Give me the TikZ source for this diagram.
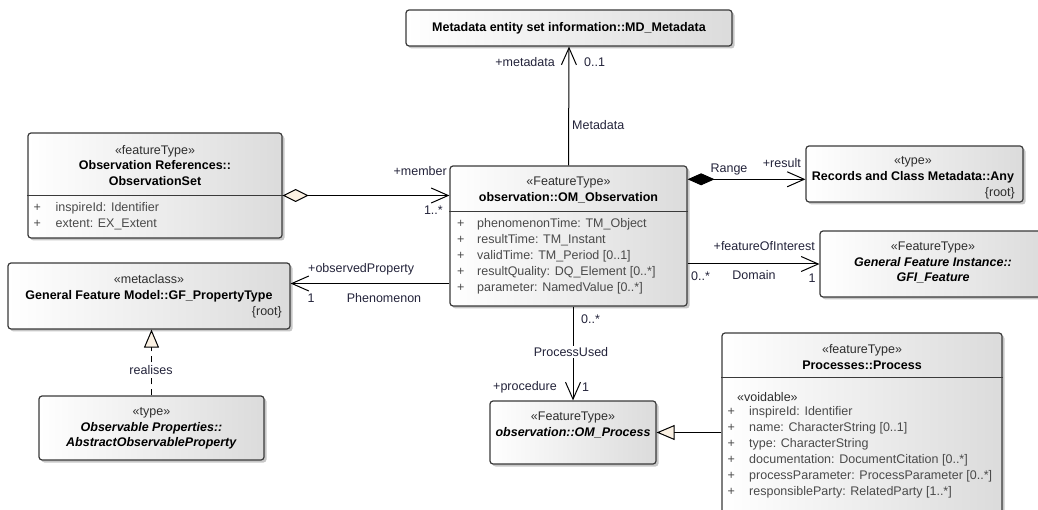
\documentclass[tikz,border=0pt]{standalone}
\usepackage{fontspec}
\setmainfont{Liberation Sans}
\usetikzlibrary{arrows.meta,shadows,calc}

\definecolor{boxline}{HTML}{3A3A3A}
\definecolor{tipfill}{HTML}{FBF1E3}
\definecolor{stereo}{HTML}{2E2E2E}
\definecolor{attrcol}{HTML}{4A4A4A}
\definecolor{labcol}{HTML}{23233A}

\newcommand{\attrrows}[2]{\begin{tabular}{@{}p{#1}@{}l@{}}#2\end{tabular}}

\begin{document}
\begin{tikzpicture}[x=1pt,y=-1pt,
  font=\fontsize{12.5}{15.5}\selectfont,
  classbox/.style={draw=boxline, line width=1.2pt, rounded corners=3pt,
    left color=white, right color=black!14, inner sep=0pt,
    drop shadow={shadow xshift=2.5pt, shadow yshift=-2.5pt, fill=black, opacity=0.22}},
  head/.style={align=center, inner sep=0pt, text=black},
  attr/.style={anchor=north west, inner sep=0pt, text=attrcol, font=\fontsize{12.5}{16}\selectfont},
  rootlbl/.style={anchor=east, inner sep=0pt, text=stereo},
  divider/.style={draw=boxline, line width=1.2pt},
  conn/.style={draw=black, line width=1pt},
  openhead/.style={-{Straight Barb[length=17pt,width=15pt,line width=1pt]}},
  lab/.style={text=labcol, inner sep=0pt},
  realise/.style={conn, dash pattern=on 6pt off 5pt,
    -{Triangle[length=18pt,width=15pt,fill=tipfill,line width=1pt]}},
  generalise/.style={conn, -{Triangle[length=18pt,width=15pt,fill=tipfill,line width=1pt]}}
]
\useasboundingbox (0,0) rectangle (1038,510);

% ---- class boxes ----
\node[classbox, minimum width=326pt, minimum height=36pt] (md) at (569,28) {};
\node[classbox, minimum width=254pt, minimum height=105pt] (obsset) at (155,185.5) {};
\node[classbox, minimum width=237pt, minimum height=140pt] (obs) at (568.5,236) {};
\node[classbox, minimum width=217pt, minimum height=56pt] (any) at (914.5,174) {};
\node[classbox, minimum width=226pt, minimum height=66pt] (gfi) at (933,264) {};
\node[classbox, minimum width=282pt, minimum height=66pt] (gfpt) at (149,296) {};
\node[classbox, minimum width=225pt, minimum height=64pt] (aop) at (151.5,428) {};
\node[classbox, minimum width=166pt, minimum height=63pt] (omp) at (573,432.5) {};
\node[classbox, minimum width=280pt, minimum height=196pt] (proc) at (862,431) {};

% ---- compartment dividers ----
\draw[divider] (obsset.west |- 0,195.5) -- (obsset.east |- 0,195.5);
\draw[divider] (obs.west |- 0,211.5) -- (obs.east |- 0,211.5);
\draw[divider] (proc.west |- 0,377.5) -- (proc.east |- 0,377.5);

% ---- class names ----
\node[head] (mdT) at (md.center) {\textbf{Metadata entity set information::MD\_Metadata}};
\node[head] (obssetT) at (155,165.5) {\textcolor{stereo}{«featureType»}\\ \textbf{Observation References::}\\ \textbf{ObservationSet}};
\node[head] (obsT) at (568.5,190) {\textcolor{stereo}{«FeatureType»}\\ \textbf{observation::OM\_Observation}};
\node[head] (anyT) at (913,170) {\textcolor{stereo}{«type»}\\ \textbf{Records and Class Metadata::Any}};
\node[rootlbl] (anyR) at (1015,193.5) {\{root\}};
\node[head] (gfiT) at (933,262.5) {\textcolor{stereo}{«FeatureType»}\\ \textbf{\itshape General Feature Instance::}\\ \textbf{\itshape GFI\_Feature}};
\node[head] (gfptT) at (149,288.5) {\textcolor{stereo}{«metaclass»}\\ \textbf{General Feature Model::GF\_PropertyType}};
\node[rootlbl] (gfptR) at (282,312.5) {\{root\}};
\node[head] (aopT) at (151.5,428.5) {\textcolor{stereo}{«type»}\\ \textbf{\itshape Observable Properties::}\\ \textbf{\itshape AbstractObservableProperty}};
\node[head] (ompT) at (573,425) {\textcolor{stereo}{«FeatureType»}\\ \textbf{\itshape observation::OM\_Process}};
\node[head] (procT) at (862,357) {\textcolor{stereo}{«featureType»}\\ \textbf{Processes::Process}};

% ---- attributes ----
\node[attr] (obssetA) at (33.5,200) {\attrrows{22pt}{+ & inspireId: Identifier\\ + & extent: EX\_Extent}};
\node[attr] (obsA) at (457,216.5) {\attrrows{20pt}{+ & phenomenonTime: TM\_Object\\ + & resultTime: TM\_Instant\\ + & validTime: TM\_Period [0..1]\\ + & resultQuality: DQ\_Element [0..*]\\ + & parameter: NamedValue [0..*]}};
\node[attr, anchor=west, text=stereo] (procV) at (737,397) {«voidable»};
\node[attr] (procA) at (727.5,404.5) {\attrrows{21.5pt}{+ & inspireId: Identifier\\ + & name: CharacterString [0..1]\\ + & type: CharacterString\\ + & documentation: DocumentCitation [0..*]\\ + & processParameter: ProcessParameter [0..*]\\ + & responsibleParty: RelatedParty [1..*]}};

% ---- Metadata association ----
\draw[conn, openhead] (obs.north) -- (md.south);
\node[lab, anchor=east] (mdRole) at (555,62) {+metadata};
\node[lab, anchor=west] (mdMult) at (584,62) {0..1};
\node[lab, anchor=west] (mdName) at (572,125) {Metadata};

% ---- member aggregation ----
\draw[conn, {Diamond[length=26pt,width=13pt,fill=tipfill,line width=1pt]}-{Straight Barb[length=17pt,width=15pt,line width=1pt]}]
  ([yshift=-10pt]obsset.east) -- ([yshift=-10pt]obsset.east -| obs.west);
\node[lab, anchor=east] (memRole) at (447,171) {+member};
\node[lab, anchor=east] (memMult) at (443,210) {1..*};

% ---- Range composition ----
\coordinate (rangeEnd) at ([yshift=-5.3pt]any.west);
\draw[conn, {Diamond[length=27pt,width=12pt,fill=black,line width=1pt]}-{Straight Barb[length=17pt,width=15pt,line width=1pt]}]
  (obs.east |- rangeEnd) -- (rangeEnd);
\node[lab] (rangeName) at (729,169) {Range};
\node[lab, anchor=east] (rangeRole) at (801,163.5) {+result};

% ---- Domain association ----
\draw[conn, openhead] (obs.east |- gfi.west) -- (gfi.west);
\node[lab, anchor=east] (domRole) at (815,246) {+featureOfInterest};
\node[lab, anchor=west] (domMultA) at (691,276) {0..*};
\node[lab] (domName) at (754,275) {Domain};
\node[lab] (domMultB) at (812,278) {1};

% ---- Phenomenon association ----
\coordinate (phenEnd) at ([yshift=12.5pt]gfpt.east);
\draw[conn, openhead] (obs.west |- phenEnd) -- (phenEnd);
\node[lab, anchor=west] (phenRole) at (308,269) {+observedProperty};
\node[lab] (phenMult) at (311,298) {1};
\node[lab] (phenName) at (384,298) {Phenomenon};

% ---- ProcessUsed association ----
\draw[conn, openhead] (obs.south -| omp.north) -- (omp.north);
\node[lab, anchor=west] (puMultA) at (581,319) {0..*};
\node[lab, fill=white, inner sep=1pt] (puName) at (571,352) {ProcessUsed};
\node[lab, anchor=east] (puRole) at (557,387) {+procedure};
\node[lab, anchor=west] (puMultB) at (582,387) {1};

% ---- realisation ----
\draw[realise] (aop.north) -- (aop.north |- gfpt.south);
\node[lab, fill=white, inner sep=1pt] (realName) at (151,370) {realises};

% ---- generalisation ----
\draw[generalise] (proc.west |- omp.east) -- (omp.east);
\end{tikzpicture}
\end{document}
